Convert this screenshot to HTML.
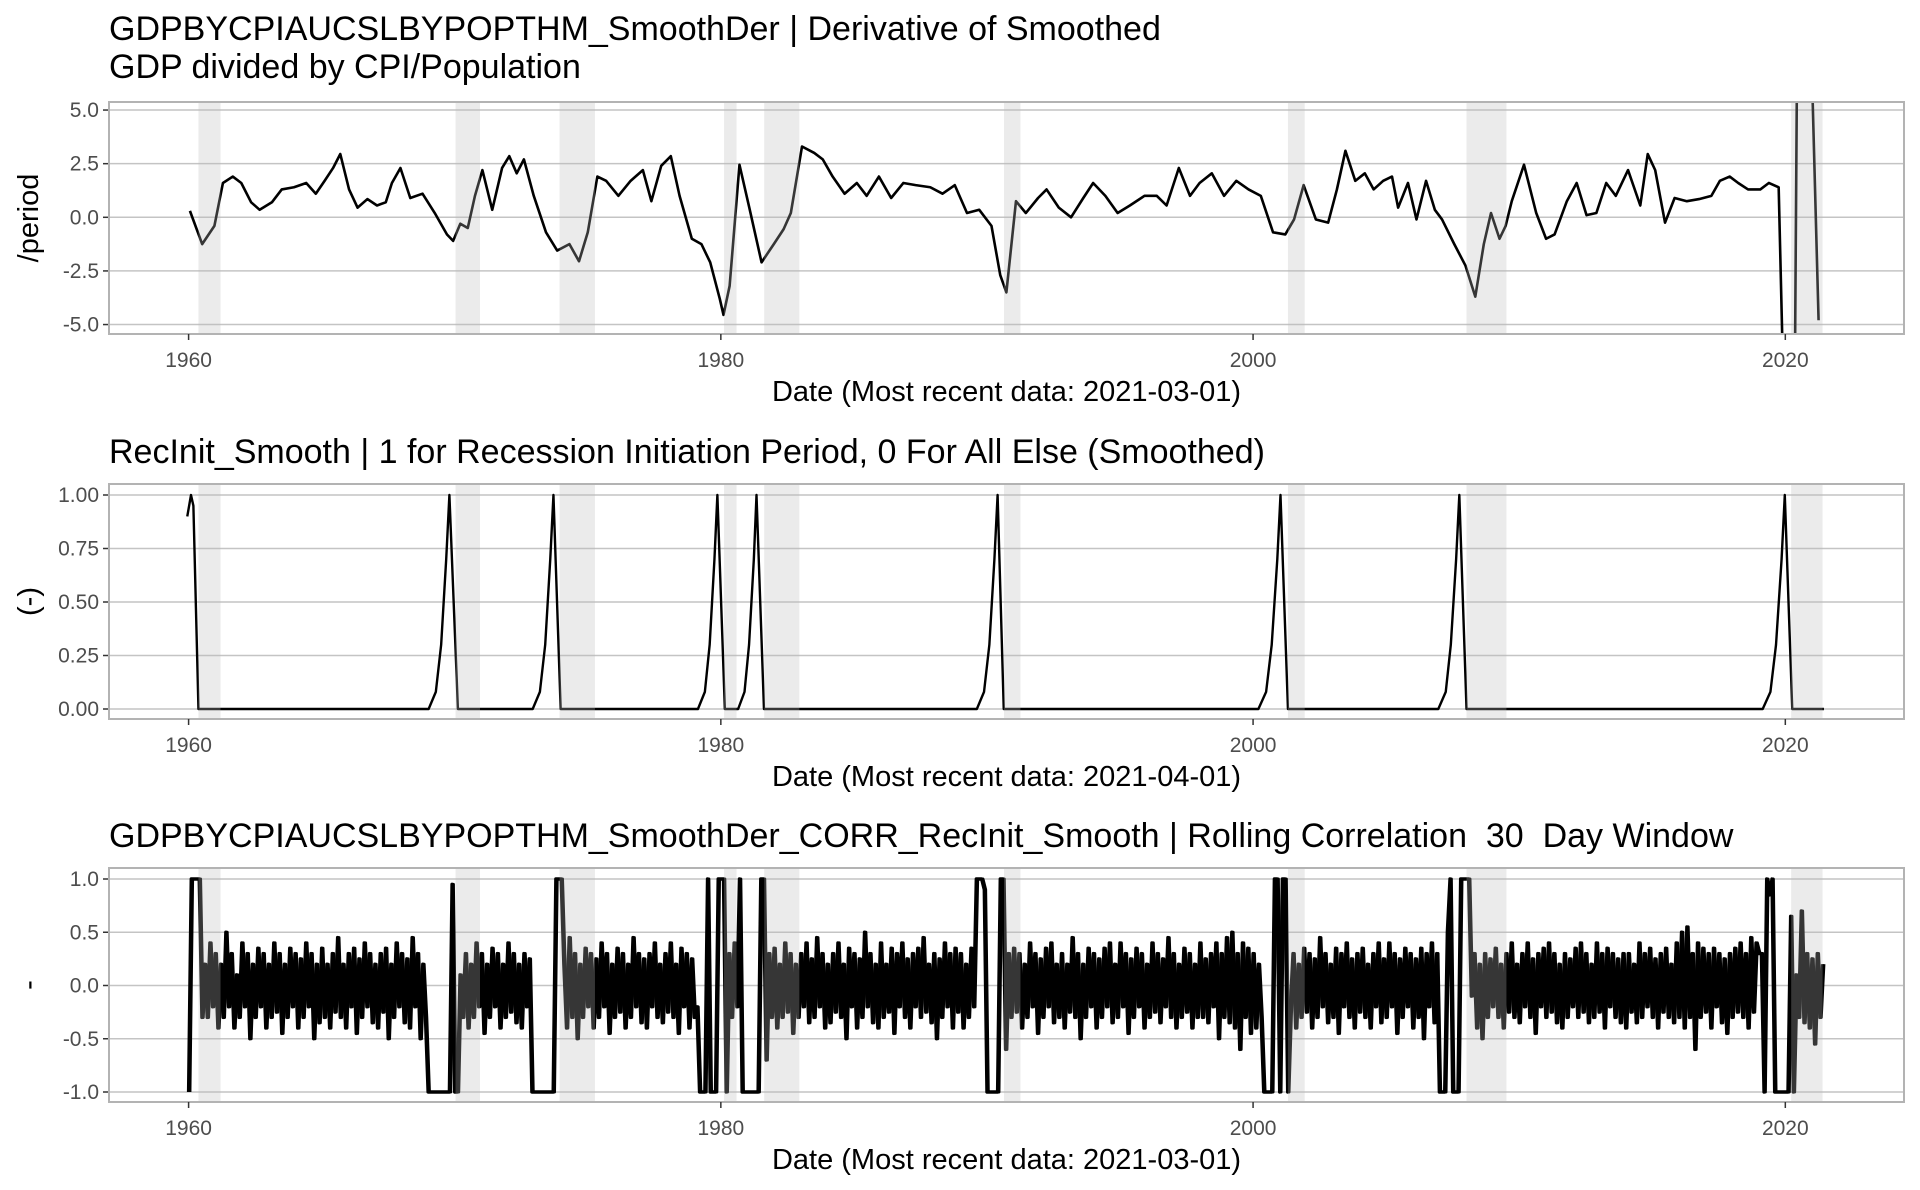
<!DOCTYPE html>
<html><head><meta charset="utf-8">
<style>
html,body{margin:0;padding:0;background:#fff;}
svg{display:block;font-family:"Liberation Sans",Arial,sans-serif;}
</style></head>
<body>
<svg id="chart" width="1920" height="1190" viewBox="0 0 1920 1190" xmlns="http://www.w3.org/2000/svg">
<rect width="1920" height="1190" fill="#fff"/>
<text x="109" y="40" font-size="34" fill="#000">GDPBYCPIAUCSLBYPOPTHM_SmoothDer | Derivative of Smoothed</text>
<text x="109" y="78" font-size="34" fill="#000">GDP divided by CPI/Population</text>
<text x="109" y="463" font-size="34" fill="#000">RecInit_Smooth | 1 for Recession Initiation Period, 0 For All Else (Smoothed)</text>
<text x="109" y="847" font-size="34" fill="#000" style="white-space:pre" xml:space="preserve">GDPBYCPIAUCSLBYPOPTHM_SmoothDer_CORR_RecInit_Smooth | Rolling Correlation  30  Day Window</text>
<g id="plots"></g>
</svg>
<script>
// ---- data ----
const recStart = [1960.37,1970.03,1973.94,1980.12,1981.63,1990.64,2001.31,2008.02,2020.22];
const recEnd   = [1961.20,1970.95,1975.27,1980.59,1982.95,1991.26,2001.94,2009.52,2021.40];
const xTicks = [1960,1980,2000,2020];

const derYears = [1960.05,1960.51,1960.97,1961.29,1961.66,1961.98,1962.35,1962.67,1963.13,1963.50,
1963.96,1964.42,1964.78,1965.11,1965.43,1965.70,1966.03,1966.35,1966.72,1967.08,
1967.41,1967.64,1967.96,1968.33,1968.79,1969.25,1969.71,1969.94,1970.21,1970.49,
1970.76,1971.04,1971.41,1971.78,1972.05,1972.33,1972.60,1972.97,1973.43,1973.85,
1974.31,1974.67,1975.00,1975.36,1975.69,1976.15,1976.61,1977.07,1977.39,1977.76,
1978.12,1978.45,1978.91,1979.27,1979.60,1979.96,1980.10,1980.33,1980.70,1981.07,
1981.53,1981.99,1982.36,1982.63,1983.05,1983.51,1983.83,1984.20,1984.65,1985.11,
1985.48,1985.94,1986.40,1986.86,1987.32,1987.87,1988.33,1988.79,1989.25,1989.71,
1990.17,1990.50,1990.73,1991.09,1991.46,1991.92,1992.24,1992.70,1993.16,1993.62,
1993.99,1994.45,1994.91,1995.37,1995.92,1996.38,1996.75,1997.21,1997.63,1997.99,
1998.45,1998.91,1999.37,1999.83,2000.29,2000.75,2001.21,2001.54,2001.90,2002.36,
2002.82,2003.15,2003.47,2003.84,2004.20,2004.53,2004.89,2005.22,2005.45,2005.82,
2006.14,2006.50,2006.83,2007.10,2007.56,2007.98,2008.35,2008.67,2008.94,2009.26,
2009.49,2009.72,2010.18,2010.64,2011.01,2011.33,2011.79,2012.16,2012.53,2012.90,
2013.27,2013.63,2014.09,2014.55,2014.83,2015.11,2015.48,2015.84,2016.30,2016.76,
2017.22,2017.54,2017.91,2018.23,2018.60,2019.06,2019.38,2019.75,2019.95,2020.35,
2020.45,2020.95,2021.25];
const derValues = [0.3,-1.25,-0.4,1.6,1.9,1.6,0.7,0.35,0.7,1.3,
1.4,1.6,1.1,1.7,2.3,2.95,1.3,0.45,0.85,0.55,
0.7,1.6,2.3,0.9,1.1,0.2,-0.8,-1.1,-0.3,-0.5,
1.0,2.2,0.35,2.3,2.85,2.05,2.7,1.0,-0.7,-1.55,
-1.25,-2.05,-0.7,1.9,1.7,1.0,1.7,2.2,0.75,2.4,
2.85,1.0,-1.0,-1.25,-2.1,-3.8,-4.55,-3.2,2.45,0.45,
-2.1,-1.25,-0.55,0.2,3.3,3.0,2.7,1.9,1.1,1.6,
1.0,1.9,0.9,1.6,1.5,1.4,1.1,1.5,0.2,0.35,
-0.4,-2.7,-3.5,0.75,0.2,0.9,1.3,0.45,0,0.9,
1.6,1.0,0.2,0.55,1.0,1.0,0.55,2.3,1.0,1.6,
2.05,1.0,1.7,1.3,1.0,-0.7,-0.8,-0.1,1.5,-0.1,
-0.25,1.3,3.1,1.7,2.05,1.3,1.7,1.9,0.45,1.6,
-0.1,1.7,0.35,-0.1,-1.25,-2.25,-3.7,-1.25,0.2,-1.0,
-0.4,0.75,2.45,0.2,-1.0,-0.8,0.75,1.6,0.1,0.2,
1.6,1.0,2.2,0.55,2.95,2.2,-0.25,0.9,0.75,0.85,
1.0,1.7,1.9,1.6,1.3,1.3,1.6,1.4,-9,-9,
9,9,-4.8];
const derTicks = [5.0,2.5,0.0,-2.5,-5.0];
const derTickLabels = ["5.0","2.5","0.0","-2.5","-5.0"];

const recYears = [1959.95,1960.09,1960.18,1960.37,
1969.02,1969.29,1969.49,1969.68,1969.80,1970.12,
1972.93,1973.20,1973.40,1973.59,1973.71,1973.98,
1979.14,1979.40,1979.58,1979.76,1979.87,1980.15,
1980.65,1980.89,1981.06,1981.24,1981.34,1981.62,
1989.62,1989.89,1990.09,1990.28,1990.40,1990.63,
2000.20,2000.49,2000.70,2000.91,2001.03,2001.31,
2006.96,2007.24,2007.43,2007.63,2007.75,2008.02,
2019.15,2019.44,2019.65,2019.86,2019.98,2020.26,2021.45];
const recValues = [0.9,1.0,0.95,0,
0,0.08,0.3,0.7,1,0,
0,0.08,0.3,0.7,1,0,
0,0.08,0.3,0.7,1,0,
0,0.08,0.3,0.7,1,0,
0,0.08,0.3,0.7,1,0,
0,0.08,0.3,0.7,1,0,
0,0.08,0.3,0.7,1,0,
0,0.08,0.3,0.7,1,0,0];
const recTicks = [1.00,0.75,0.50,0.25,0.00];
const recTickLabels = ["1.00","0.75","0.50","0.25","0.00"];

const corrStart = 1960.0;
const corrStep = 0.1;
const corrValues = [
-1,1,1,1,1,-0.3,0.2,-0.3,0.4,-0.2,
0.3,-0.4,0.2,-0.3,0.5,-0.2,0.3,-0.4,0.1,-0.3,
0.4,-0.2,0.3,-0.5,0.2,-0.3,0.35,-0.2,0.3,-0.4,
0.2,-0.3,0.4,-0.25,0.3,-0.45,0.2,-0.3,0.35,-0.2,
0.3,-0.4,0.25,-0.3,0.4,-0.2,0.3,-0.5,0.2,-0.35,
0.35,-0.3,0.2,-0.4,0.3,-0.25,0.45,-0.3,0.2,-0.4,
0.3,-0.2,0.35,-0.45,0.25,-0.3,0.4,-0.2,0.3,-0.35,
0.2,-0.4,0.3,-0.25,0.35,-0.5,0.2,-0.3,0.4,-0.2,
0.3,-0.35,0.25,-0.4,0.45,-0.2,0.3,-0.5,0.2,-0.3,
-1,-1,-1,-1,-1,-1,-1,-1,-1,0.95,
-1,-1,0.1,-0.3,0.3,-0.4,0.2,-0.3,0.4,-0.2,
0.3,-0.45,0.2,-0.3,0.35,-0.2,0.3,-0.4,0.2,-0.3,
0.4,-0.25,0.3,-0.35,0.2,-0.4,0.3,-0.2,0.25,-1,
-1,-1,-1,-1,-1,-1,-1,-1,1,1,
1,0.2,-0.4,0.45,-0.3,0.3,-0.5,0.2,-0.3,0.35,
-0.2,0.3,-0.4,0.25,-0.3,0.4,-0.2,0.3,-0.45,0.2,
-0.3,0.35,-0.25,0.3,-0.4,0.2,-0.3,0.45,-0.2,0.3,
-0.35,0.25,-0.4,0.3,-0.2,0.4,-0.3,0.2,-0.35,0.3,
-0.25,0.4,-0.3,0.2,-0.45,0.35,-0.2,0.3,-0.4,0.25,
-0.3,-0.2,-1,-1,-1,1,-1,-1,-1,1,
1,1,-1,0.3,-0.3,0.4,-0.2,1,-1,-1,
-1,-1,-1,-1,-1,1,1,-0.7,0.3,-0.3,
0.35,-0.4,0.2,-0.3,0.4,-0.25,0.3,-0.45,0.2,-0.3,
0.3,-0.2,0.4,-0.35,0.25,-0.3,0.45,-0.2,0.3,-0.4,
0.2,-0.35,0.3,-0.25,0.4,-0.3,0.2,-0.5,0.35,-0.2,
0.3,-0.4,0.25,-0.3,0.5,-0.2,0.3,-0.35,0.2,-0.4,
0.4,-0.3,0.2,-0.25,0.35,-0.45,0.3,-0.2,0.4,-0.3,
0.25,-0.4,0.3,-0.2,0.35,-0.3,0.45,-0.25,0.2,-0.35,
0.3,-0.5,0.25,-0.3,0.4,-0.2,0.3,-0.4,0.35,-0.25,
0.3,-0.4,0.2,-0.3,0.35,-0.2,1,1,1,0.9,
-1,-1,-1,-1,-1,1,1,-0.6,0.3,-0.3,
0.35,-0.25,0.3,-0.4,0.2,-0.3,0.4,-0.2,0.3,-0.45,
0.25,-0.3,0.35,-0.2,0.4,-0.35,0.2,-0.3,0.3,-0.4,
0.2,-0.25,0.45,-0.3,0.3,-0.5,0.2,-0.3,0.35,-0.2,
0.3,-0.4,0.25,-0.3,0.35,-0.2,0.4,-0.35,0.2,-0.3,
0.4,-0.2,0.3,-0.45,0.25,-0.3,0.35,-0.2,0.3,-0.4,
0.2,-0.3,0.4,-0.25,0.3,-0.35,0.25,-0.2,0.45,-0.3,
0.3,-0.4,0.2,-0.3,0.35,-0.25,0.3,-0.4,0.2,-0.3,
0.4,-0.3,0.25,-0.35,0.3,-0.2,0.4,-0.5,0.3,-0.3,
0.45,-0.35,0.5,-0.4,0.3,-0.6,0.4,-0.3,0.35,-0.45,
0.3,-0.4,0.2,-0.3,-1,-1,-1,-1,1,1,
-1,1,1,-1,-0.2,0.3,-0.4,0.2,-0.3,0.35,
-0.25,0.3,-0.4,0.25,-0.3,0.45,-0.2,0.3,-0.35,0.2,
-0.3,0.35,-0.45,0.3,-0.2,0.4,-0.3,0.25,-0.4,0.3,
-0.25,0.35,-0.3,0.2,-0.4,0.3,-0.2,0.4,-0.35,0.25,
-0.3,0.4,-0.2,0.3,-0.45,0.25,-0.3,0.35,-0.2,0.3,
-0.4,0.25,-0.3,0.35,-0.5,0.3,-0.2,0.4,-0.35,0.3,
-1,-1,-1,0.5,1,-1,-1,-1,1,1,
1,1,-0.1,0.3,-0.4,0.2,-0.5,0.3,-0.3,0.25,
-0.2,0.35,-0.3,0.2,-0.4,0.3,-0.25,0.4,-0.3,0.2,
-0.35,0.3,-0.2,0.4,-0.3,0.25,-0.45,0.3,-0.2,0.35,
-0.3,0.4,-0.25,0.3,-0.35,0.2,-0.4,0.3,-0.3,0.25,
-0.2,0.35,-0.3,0.4,-0.25,0.3,-0.35,0.2,-0.3,0.4,
-0.25,0.3,-0.4,0.35,-0.2,0.3,-0.3,0.25,-0.35,0.3,
-0.4,0.3,-0.25,0.2,-0.35,0.4,-0.3,0.3,-0.2,0.35,
-0.3,0.25,-0.4,0.3,-0.25,0.35,-0.3,0.2,-0.35,0.4,
-0.3,0.5,-0.4,0.55,-0.3,0.3,-0.6,0.4,-0.3,0.35,
-0.25,0.3,-0.4,0.35,-0.2,0.3,-0.35,0.25,-0.45,0.3,
-0.3,0.35,-0.25,0.4,-0.3,0.3,-0.4,0.45,-0.25,0.4,
0.3,0.3,-1,1,0.85,1,-1,-1,-1,-1,
-1,-1,0.65,-1,0.1,-0.3,0.7,-0.35,0.3,-0.4,
0.25,-0.55,0.3,-0.3,0.2];
const corrTicks = [1.0,0.5,0.0,-0.5,-1.0];
const corrTickLabels = ["1.0","0.5","0.0","-0.5","-1.0"];

// ---- layout ----
const L = 109, R = 1904;
const xScale = yr => 188.6 + (yr - 1960) * 26.612;
const NS = "http://www.w3.org/2000/svg";
const root = document.getElementById('plots');
function mk(tag, attrs, parent){ const e=document.createElementNS(NS,tag); for(const k in attrs) e.setAttribute(k,attrs[k]); (parent||root).appendChild(e); return e; }

function panel(id, top, bottom, yScale, ticks, tickLabels, yTitle, xTitle, drawSeries){
  const g = mk('g',{});
  
  
  const cp = mk('clipPath',{id:id+'-clip'}, g);
  mk('rect',{x:L,y:top,width:R-L,height:bottom-top}, cp);
  ticks.forEach((t,i)=>{
    const gl = mk('line',{x1:L,x2:R,y1:yScale(t),y2:yScale(t),stroke:'#c4c4c4','stroke-width':1.5}, g);
    
    
    const tk = mk('line',{x1:L-6,x2:L,y1:yScale(t),y2:yScale(t),stroke:'#333','stroke-width':1.5}, g);
    
    
    const tl = mk('text',{x:L-10,y:yScale(t)+7,'text-anchor':'end','font-size':21,fill:'#4d4d4d'}, g);
    tl.textContent = tickLabels[i];
    
    
  });
  const sg = mk('g',{'clip-path':'url(#'+id+'-clip)'}, g);
  drawSeries(sg);
  recStart.forEach((s,i)=>{
    const b = mk('rect',{x:xScale(s),y:top,width:xScale(recEnd[i])-xScale(s),height:bottom-top,fill:'#bbbbbb','fill-opacity':0.29}, sg);
    
    
  });
  const bd = mk('rect',{x:L,y:top,width:R-L,height:bottom-top,fill:'none',stroke:'#b3b3b3','stroke-width':2}, g);
  
  
  xTicks.forEach(t=>{
    const tk = mk('line',{x1:xScale(t),x2:xScale(t),y1:bottom,y2:bottom+6,stroke:'#333','stroke-width':1.5}, g);
    
    
    const tl = mk('text',{x:xScale(t),y:bottom+33,'text-anchor':'middle','font-size':21,fill:'#4d4d4d'}, g);
    tl.textContent = String(t);
    
    
  });
  const xt = mk('text',{x:(L+R)/2,y:bottom+67,'text-anchor':'middle','font-size':29,fill:'#000'}, g);
  xt.textContent = xTitle;
  
  
  const cy = (top+bottom)/2;
  const yt = mk('text',{x:0,y:0,transform:'translate(38,'+cy+') rotate(-90)','text-anchor':'middle','font-size':29,fill:'#000'}, g);
  yt.textContent = yTitle;
  
  
}

const y1 = v => 217.3 - v * 21.45;
panel('panel1', 102, 334, y1, derTicks, derTickLabels, '/period', 'Date (Most recent data: 2021-03-01)', sg=>{
  const d = derYears.map((yr,i)=>(i?'L':'M')+xScale(yr).toFixed(2)+' '+y1(derValues[i]).toFixed(2)).join(' ');
  const p = mk('path',{d:d,fill:'none',stroke:'#000','stroke-width':2.6,'stroke-linejoin':'round'}, sg);
  
  
});

const y2 = v => 709 - v * 214;
panel('panel2', 484, 719, y2, recTicks, recTickLabels, '(-)', 'Date (Most recent data: 2021-04-01)', sg=>{
  const d = recYears.map((yr,i)=>(i?'L':'M')+xScale(yr).toFixed(2)+' '+y2(recValues[i]).toFixed(2)).join(' ');
  const p = mk('path',{d:d,fill:'none',stroke:'#000','stroke-width':2.4,'stroke-linejoin':'round'}, sg);
  
  
});

const y3 = v => 985.5 - v * 106.5;
panel('panel3', 868, 1102, y3, corrTicks, corrTickLabels, '-', 'Date (Most recent data: 2021-03-01)', sg=>{
  const d = corrValues.map((v,i)=>(i?'L':'M')+xScale(corrStart+i*corrStep).toFixed(2)+' '+y3(v).toFixed(2)).join(' ');
  const d2 = corrValues.map((v,i)=>(i?'L':'M')+xScale(corrStart+(i+0.5)*corrStep).toFixed(2)+' '+y3(v).toFixed(2)).join(' ');
  const p2 = mk('path',{d:d2,fill:'none',stroke:'#000','stroke-width':3,'stroke-linejoin':'round'}, sg);
  
  
  const p = mk('path',{d:d,fill:'none',stroke:'#000','stroke-width':3.4,'stroke-linejoin':'round'}, sg);
  
  
});
</script>
</body></html>
